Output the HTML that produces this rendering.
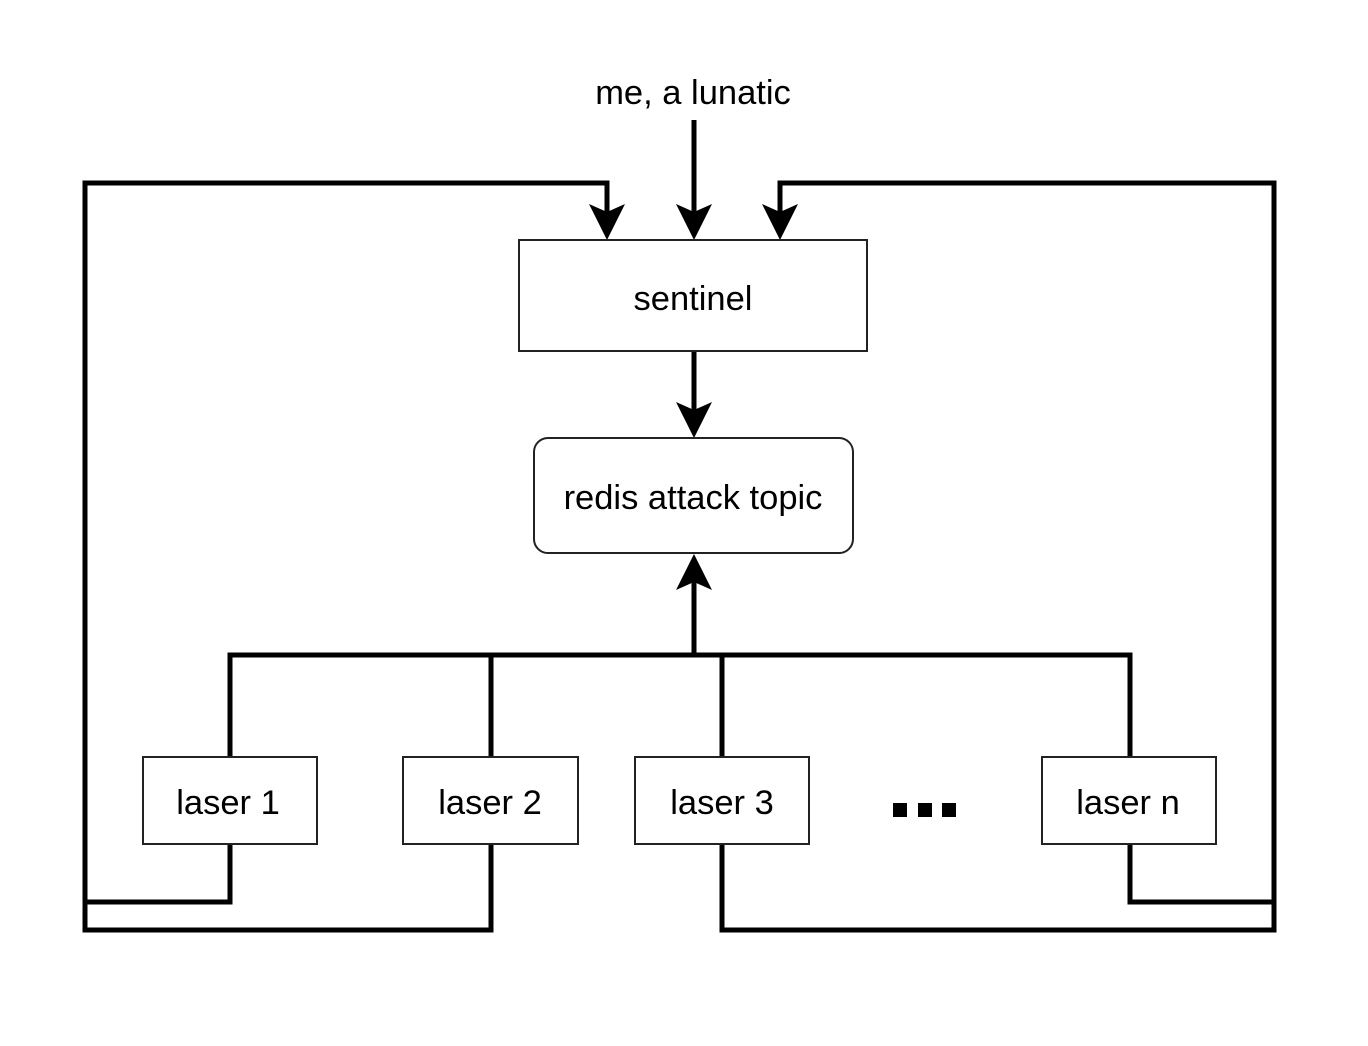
<!DOCTYPE html>
<html><head><style>
html,body{margin:0;padding:0;background:#fff;}
svg{display:block;}
text{font-family:"Liberation Sans",Helvetica,Arial,sans-serif;font-size:34.5px;fill:#000;}
</style></head><body>
<svg width="1368" height="1046" viewBox="0 0 1368 1046" xmlns="http://www.w3.org/2000/svg">
<g fill="none" stroke="#000" stroke-width="5" stroke-linejoin="miter">
<line x1="694" y1="120" x2="694" y2="230"/>
<polyline points="607,230 607,183 85,183 85,930 491,930 491,844"/>
<polyline points="230,844 230,902 85,902"/>
<polyline points="780,230 780,183 1274,183 1274,930 722,930 722,844"/>
<polyline points="1130,844 1130,902 1274,902"/>
<line x1="694" y1="351" x2="694" y2="428"/>
<polyline points="230,757 230,655 1130,655 1130,757"/>
<line x1="491" y1="655" x2="491" y2="757"/>
<line x1="722" y1="655" x2="722" y2="757"/>
<line x1="694" y1="655" x2="694" y2="570"/>
</g>
<g fill="#000">
<polygon points="607,240 589,204 607,212 625,204"/>
<polygon points="694,240 676,204 694,212 712,204"/>
<polygon points="780,240 762,204 780,212 798,204"/>
<polygon points="694,438 676,402 694,410 712,402"/>
<polygon points="694,554 676,590 694,582 712,590"/>
<rect x="893" y="803" width="14" height="14"/>
<rect x="918" y="803" width="14" height="14"/>
<rect x="942" y="803" width="14" height="14"/>
</g>
<g fill="#fff" stroke="#222" stroke-width="2">
<rect x="519" y="240" width="348" height="111"/>
<rect x="534" y="438" width="319" height="115" rx="14"/>
<rect x="143" y="757" width="174" height="87"/>
<rect x="403" y="757" width="175" height="87"/>
<rect x="635" y="757" width="174" height="87"/>
<rect x="1042" y="757" width="174" height="87"/>
</g>
<g text-anchor="middle">
<text x="693" y="104">me, a lunatic</text>
<text x="693" y="310">sentinel</text>
<text x="693" y="509">redis attack topic</text>
<text x="228" y="814">laser 1</text>
<text x="490" y="814">laser 2</text>
<text x="722" y="814">laser 3</text>
<text x="1128" y="814">laser n</text>
</g>
</svg>
</body></html>
